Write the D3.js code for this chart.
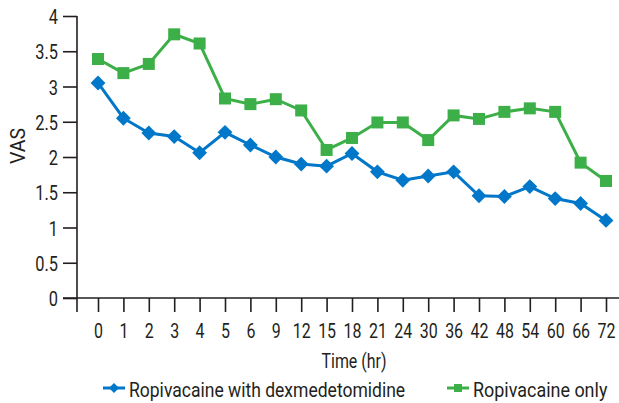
<!DOCTYPE html>
<html>
<head>
<meta charset="utf-8">
<script src="https://cdn.jsdelivr.net/npm/d3@7"></script>
<style>
  body { margin: 0; background: #fff; }
  text { font-family: "Roboto", "DejaVu Sans Condensed", sans-serif; fill: #231f20; font-size: 21px; }
</style>
</head>
<body>
<svg id="chart" width="619" height="403"></svg>
<script>
// x categories (hours)
const hours = ["0", "1", "2", "3", "4", "5", "6", "9", "12", "15", "18", "21", "24", "30", "36", "42", "48", "54", "60", "66", "72"];
// VAS
const withDex = [3.05, 2.55, 2.34, 2.29, 2.06, 2.35, 2.17, 2.0, 1.9, 1.87, 2.05, 1.79, 1.67, 1.73, 1.79, 1.45, 1.44, 1.58, 1.41, 1.34, 1.1];
const ropiOnly = [3.39, 3.19, 3.32, 3.74, 3.61, 2.83, 2.75, 2.82, 2.66, 2.1, 2.27, 2.49, 2.49, 2.24, 2.59, 2.54, 2.64, 2.69, 2.64, 1.92, 1.66];
const yTicks = [0, 0.5, 1, 1.5, 2, 2.5, 3, 3.5, 4];

const blue = "#0077c8";
const green = "#3daf48";

const svg = d3.select("#chart");

// the original uses a condensed face, so squeeze text around its anchor
function condense(sel, k) {
    sel.each(function() {
        let t = d3.select(this);
        let tx = +(t.attr("x") || 0);
        t.attr("transform", `translate(${tx},0) scale(${k},1) translate(${-tx},0)`);
    });
}

let x = d3.scalePoint().domain(hours).range([98, 606]);
let y = d3.scaleLinear().domain([0, 4]).range([298, 16]);

// y axis
const yAxis = svg.append("g")
    .attr("transform", "translate(77,0)")
    .call(d3.axisLeft(y).tickValues(yTicks).tickSize(14).tickPadding(5)
        .tickFormat(d => d));
yAxis.select(".domain").remove();
yAxis.selectAll("line").attr("stroke", "#231f20").attr("stroke-width", 1.6);
yAxis.selectAll("text").style("font-size", null).attr("dy", "0.36em").call(condense, 0.78);
svg.append("line")
    .attr("x1", 77).attr("x2", 77)
    .attr("y1", y(4)).attr("y2", 312)
    .attr("stroke", "#231f20").attr("stroke-width", 1.6);

// x axis
const xAxis = svg.append("g")
    .attr("transform", "translate(0,298)")
    .call(d3.axisBottom(x).tickSize(14));
xAxis.select(".domain").remove();
xAxis.selectAll("line").attr("stroke", "#231f20").attr("stroke-width", 1.6);
xAxis.selectAll("text").attr("y", 40).attr("dy", null).call(condense, 0.76);
svg.append("line")
    .attr("x1", 63).attr("x2", 619)
    .attr("y1", 298).attr("y2", 298)
    .attr("stroke", "#231f20").attr("stroke-width", 1.6);

// axis titles
svg.append("text")
    .attr("x", 354).attr("y", 368)
    .attr("text-anchor", "middle")
    .text("Time (hr)")
    .call(condense, 0.76);

svg.append("text")
    .attr("transform", "translate(25,146) rotate(-90) scale(0.93,1)")
    .attr("text-anchor", "middle")
    .text("VAS");

// lines
let line = d3.line()
    .x((d, i) => x(hours[i]))
    .y(d => y(d));

svg.append("path")
    .datum(ropiOnly)
    .attr("d", line)
    .attr("fill", "none")
    .attr("stroke", green)
    .attr("stroke-width", 3);

svg.append("path")
    .datum(withDex)
    .attr("d", line)
    .attr("fill", "none")
    .attr("stroke", blue)
    .attr("stroke-width", 3);

// markers
svg.append("g").selectAll("rect")
    .data(ropiOnly)
    .enter()
    .append("rect")
    .attr("x", (d, i) => x(hours[i]) - 6)
    .attr("y", d => y(d) - 6)
    .attr("width", 12)
    .attr("height", 12)
    .attr("fill", green);

svg.append("g").selectAll("rect")
    .data(withDex)
    .enter()
    .append("rect")
    .attr("width", 10.5)
    .attr("height", 10.5)
    .attr("transform", (d, i) => `translate(${x(hours[i])},${y(d)}) rotate(45) translate(-5.25,-5.25)`)
    .attr("fill", blue);

// legend
let legend = svg.append("g");
let items = [
    { label: "Ropivacaine with dexmedetomidine", color: blue, shape: "diamond", x: 103, k: 0.835 },
    { label: "Ropivacaine only", color: green, shape: "square", x: 447, k: 0.855 }
];
for (let it of items) {
    legend.append("line")
        .attr("x1", it.x).attr("x2", it.x + 22)
        .attr("y1", 388).attr("y2", 388)
        .attr("stroke", it.color).attr("stroke-width", 3);
    if (it.shape == "diamond") {
        legend.append("rect")
            .attr("width", 7).attr("height", 7)
            .attr("transform", `translate(${it.x + 11},388) rotate(45) translate(-3.5,-3.5)`)
            .attr("fill", it.color);
    } else {
        legend.append("rect")
            .attr("x", it.x + 7).attr("y", 384)
            .attr("width", 8).attr("height", 8)
            .attr("fill", it.color);
    }
    legend.append("text")
        .attr("x", it.x + 26).attr("y", 397)
        .text(it.label)
        .call(condense, it.k);
}
</script>
</body>
</html>
